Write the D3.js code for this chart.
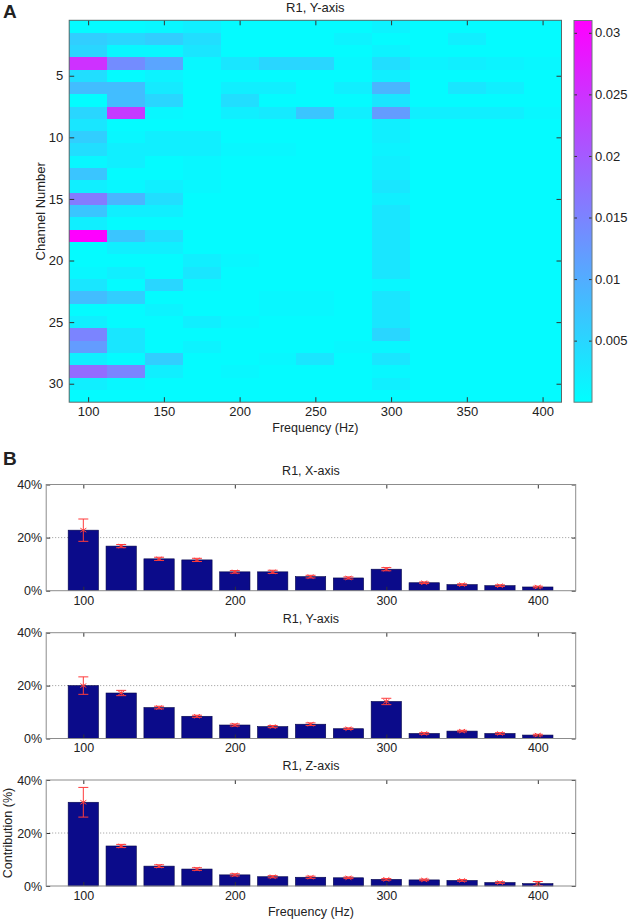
<!DOCTYPE html>
<html><head><meta charset="utf-8">
<script src="https://cdn.jsdelivr.net/npm/d3@7"></script>
<style>
body{margin:0;background:#fff}
svg{display:block}
text{font-family:"Liberation Sans",Arial,sans-serif;fill:#222}
</style>
</head><body>
<svg id="c" width="630" height="919"></svg>
<script>
// ---------- DATA ----------
const frequencies = [100,125,150,175,200,225,250,275,300,325,350,375,400];
const channels = d3.range(1, 32); // 1..31
// heatmap values (x 0.001), one row per channel, one column per frequency
const heatRows = [
 [0.5,0.5,1,2,0.5,0.5,0.5,0.5,1.5,0.5,0.5,0.5,0.5],
 [6,5,6,4,0.5,0.5,0.5,1.5,0.5,0.5,2,0.5,0.5],
 [5,1,1,3,0.5,0.5,0.5,0.5,1.5,0.5,0.5,0.5,0.5],
 [25,14,11,1,3,5,5,1,4,1.5,2,1.5,1],
 [4,0.5,1.5,0.5,0.5,0.5,0.5,0.5,2,0.5,0.5,0.5,0.5],
 [8,8,2.5,0.5,2,2,0.5,2,9,0.5,3,2,0.5],
 [0.3,8,5,0.5,4,0.5,0.5,0.5,3,0.5,0.5,0.5,0.5],
 [5,24,1,0.5,2,2.5,7,2,12,2,2,2,1],
 [3,0.5,0.5,0.5,0.5,0.5,0.5,0.5,2,0.5,0.5,0.5,0.5],
 [6,1,2,2,0.5,0.5,0.5,0.5,2,0.5,0.5,0.5,0.5],
 [4,2,2,2,1,1,0.5,0.5,1.5,0.5,0.5,0.5,0.5],
 [1,2,0.5,1,0.5,0.5,0.5,0.5,2,0.5,0.5,0.5,0.5],
 [7,0.5,0.5,1,0.5,0.5,0.5,0.5,2,0.5,0.5,0.5,0.5],
 [2,1,2,1,0.5,0.5,0.5,0.5,3,0.5,0.5,0.5,0.5],
 [16,9,4,0.5,0.5,0.5,0.5,0.5,2,0.5,0.5,0.5,0.5],
 [7,2,2,0.5,0.5,0.5,0.5,0.5,3,0.5,0.5,0.5,0.5],
 [2,0.5,0.5,0.5,0.5,0.5,0.5,0.5,3,0.5,0.5,0.5,0.5],
 [31,7,4,0.5,0.5,0.5,0.5,0.5,3,0.5,0.5,0.5,0.5],
 [0.5,2,2,0.5,0.5,0.5,0.5,0.5,3,0.5,0.5,0.5,0.5],
 [0.5,0.5,0.5,2,1,0.5,0.5,0.5,3,0.5,0.5,0.5,0.5],
 [1,2,0.5,3,0.5,0.5,0.5,0.5,3,0.5,0.5,0.5,0.5],
 [3,0.5,5,1,0.5,0.5,0.5,0.5,1,0.5,0.5,0.5,0.5],
 [8,6,0.5,0.5,0.5,1,1,0.5,3,0.5,0.5,0.5,0.5],
 [0.5,0.5,1.5,0.5,0.5,1,1,0.5,3,0.5,0.5,0.5,0.5],
 [2,0.5,0.5,2,1,0.5,0.5,0.5,3,0.5,0.5,0.5,0.5],
 [15,3,0.5,0.5,0.5,0.5,0.5,0.5,5,0.5,0.5,0.5,0.5],
 [12,3,0.5,1.5,0.5,0.5,0.5,1,1,0.5,0.5,0.5,0.5],
 [2,0.5,6,0.5,0.5,1,3,0.5,3,0.5,0.5,0.5,0.5],
 [18,15,2,0.5,1,0.5,0.5,0.5,1,0.5,0.5,0.5,0.5],
 [2,1,0.5,0.5,0.5,0.5,0.5,0.5,2,0.5,0.5,0.5,0.5],
 [0.5,0.5,0.5,0.5,0.5,0.5,0.5,0.5,0.5,0.5,0.5,0.5,0.5]
];
const heatScale = 0.001;
const colorDomain = [0, 0.031];
const heatXTicks = [100,150,200,250,300,350,400];
const heatYTicks = [5,10,15,20,25,30];
const colorbarTicks = [0.005,0.01,0.015,0.02,0.025,0.03];

const barXTicks = [100,200,300,400];
const barYTicks = [0,20,40];
const xAxisMean = [22.8,16.8,12.0,11.6,7.1,7.1,5.3,4.8,8.1,3.0,2.3,1.9,1.4];
const xAxisErr  = [4.2,0.6,0.6,0.6,0.5,0.6,0.5,0.4,0.6,0.3,0.3,0.3,0.3];
const yAxisMean = [20.0,17.2,11.7,8.4,5.1,4.5,5.4,3.7,14.0,1.9,2.8,1.9,1.3];
const yAxisErr  = [3.3,1.0,0.5,0.4,0.4,0.4,0.5,0.3,1.2,0.3,0.3,0.3,0.3];
const zAxisMean = [31.6,15.1,7.5,6.4,4.2,3.5,3.3,3.1,2.5,2.3,2.1,1.3,0.9];
const zAxisErr  = [5.6,0.6,0.5,0.5,0.4,0.4,0.4,0.3,0.3,0.3,0.3,0.3,0.8];

// ---------- DRAW ----------
const svg = d3.select("#c");

// Panel A: heatmap
const hm = {left:69.2, right:561.5, top:20.3, bottom:402.2};
const hx = d3.scaleLinear().domain([87.5, 412.5]).range([hm.left, hm.right]);
const hy = d3.scaleLinear().domain([0.5, 31.5]).range([hm.top, hm.bottom]);
const cool = d3.scaleLinear().domain(colorDomain).range(["#00ffff","#ff00ff"]).interpolate(d3.interpolateRgb).clamp(true);

const cells = [];
heatRows.forEach((row, i) => row.forEach((v, j) => cells.push({ch: channels[i], f: frequencies[j], v: v*heatScale})));
svg.append("g").selectAll("rect").data(cells).join("rect")
  .attr("x", d => hx(d.f - 12.5)).attr("y", d => hy(d.ch - 0.5))
  .attr("width", d => hx(d.f + 12.5) - hx(d.f - 12.5))
  .attr("height", d => hy(d.ch + 0.5) - hy(d.ch - 0.5))
  .attr("fill", d => cool(d.v)).attr("shape-rendering","crispEdges");

function styleAxis(g, fs){
  g.select(".domain").remove();
  g.selectAll(".tick line").attr("stroke","#333");
  g.selectAll(".tick text").style("font-size", fs+"px").attr("fill","#222");
}
svg.append("g").attr("transform",`translate(0,${hm.bottom})`)
  .call(d3.axisBottom(hx).tickValues(heatXTicks).tickSize(-5).tickPadding(5))
  .call(g=>styleAxis(g,13));
svg.append("g").attr("transform",`translate(0,${hm.top})`)
  .call(d3.axisTop(hx).tickValues(heatXTicks).tickSize(-5).tickFormat(""))
  .call(g=>styleAxis(g,13));
svg.append("g").attr("transform",`translate(${hm.left},0)`)
  .call(d3.axisLeft(hy).tickValues(heatYTicks).tickSize(-5).tickPadding(6))
  .call(g=>styleAxis(g,13));
svg.append("g").attr("transform",`translate(${hm.right},0)`)
  .call(d3.axisRight(hy).tickValues(heatYTicks).tickSize(-5).tickFormat(""))
  .call(g=>styleAxis(g,13));
svg.append("rect").attr("x",hm.left).attr("y",hm.top)
  .attr("width",hm.right-hm.left).attr("height",hm.bottom-hm.top)
  .attr("fill","none").attr("stroke","#5a6a6a").attr("stroke-width",1);

svg.append("text").attr("x",(hm.left+hm.right)/2).attr("y",12).attr("text-anchor","middle")
  .style("font-size","13px").text("R1, Y-axis");
svg.append("text").attr("x",(hm.left+hm.right)/2).attr("y",431.5).attr("text-anchor","middle")
  .style("font-size","12.5px").text("Frequency (Hz)");
svg.append("text").attr("transform",`translate(45,${(hm.top+hm.bottom)/2}) rotate(-90)`)
  .attr("text-anchor","middle").style("font-size","13px").text("Channel Number");
svg.append("text").attr("x",3).attr("y",18).style("font-size","19px").style("font-weight","bold")
  .attr("fill","#000").text("A");

// colorbar
const cb = {left:574, right:592, top:20.5, bottom:402.2};
const cy = d3.scaleLinear().domain(colorDomain).range([cb.bottom, cb.top]);
const grad = svg.append("defs").append("linearGradient").attr("id","cg")
  .attr("x1","0").attr("y1","1").attr("x2","0").attr("y2","0");
grad.append("stop").attr("offset","0").attr("stop-color",cool(colorDomain[0]));
grad.append("stop").attr("offset","1").attr("stop-color",cool(colorDomain[1]));
svg.append("rect").attr("x",cb.left).attr("y",cb.top).attr("width",cb.right-cb.left)
  .attr("height",cb.bottom-cb.top).attr("fill","url(#cg)");
svg.append("g").attr("transform",`translate(${cb.right},0)`)
  .call(d3.axisRight(cy).tickValues(colorbarTicks).tickSize(3).tickPadding(0).tickFormat(d3.format("")))
  .call(g=>styleAxis(g,13))
  .call(g=>g.selectAll(".tick line").attr("x1",-cb.right+cb.left).attr("x2",-cb.right+cb.left+3));
svg.append("g").attr("transform",`translate(${cb.right},0)`)
  .call(d3.axisLeft(cy).tickValues(colorbarTicks).tickSize(3).tickFormat(""))
  .call(g=>styleAxis(g,13));
svg.append("rect").attr("x",cb.left).attr("y",cb.top).attr("width",cb.right-cb.left)
  .attr("height",cb.bottom-cb.top).attr("fill","none").attr("stroke","#6a7a7a");

// Panel B: bar charts
svg.append("text").attr("x",3).attr("y",465).style("font-size","19px").style("font-weight","bold")
  .attr("fill","#000").text("B");

const bx = d3.scaleLinear().domain([75.5, 425]).range([46.2, 575.7]);
const panels = [
  {title:"R1, X-axis", mean:xAxisMean, err:xAxisErr, top:484.5, bottom:590.7},
  {title:"R1, Y-axis", mean:yAxisMean, err:yAxisErr, top:632.7, bottom:738.5},
  {title:"R1, Z-axis", mean:zAxisMean, err:zAxisErr, top:780, bottom:886}
];
panels.forEach((p, k) => {
  const by = d3.scaleLinear().domain([0,40]).range([p.bottom, p.top]);
  const g = svg.append("g");
  // grid
  g.append("line").attr("x1",bx.range()[0]).attr("x2",bx.range()[1])
    .attr("y1",by(20)).attr("y2",by(20)).attr("stroke","#999").attr("stroke-dasharray","1,2");
  // bars
  const data = frequencies.map((f,i)=>({f, m:p.mean[i], e:p.err[i]}));
  g.selectAll("rect.bar").data(data).join("rect").attr("class","bar")
    .attr("x", d=>bx(d.f-10)).attr("width", d=>bx(d.f+10)-bx(d.f-10))
    .attr("y", d=>by(d.m)).attr("height", d=>by(0)-by(d.m))
    .attr("fill","#0b0b8a").attr("stroke","#05054a").attr("stroke-width",0.6);
  // error bars
  const eb = g.selectAll("g.eb").data(data).join("g").attr("class","eb")
    .attr("stroke","#ff3b3b").attr("stroke-width",1);
  eb.append("line").attr("x1",d=>bx(d.f)).attr("x2",d=>bx(d.f)).attr("y1",d=>by(d.m+d.e)).attr("y2",d=>by(d.m-d.e));
  eb.append("line").attr("x1",d=>bx(d.f)-5).attr("x2",d=>bx(d.f)+5).attr("y1",d=>by(d.m+d.e)).attr("y2",d=>by(d.m+d.e));
  eb.append("line").attr("x1",d=>bx(d.f)-5).attr("x2",d=>bx(d.f)+5).attr("y1",d=>by(d.m-d.e)).attr("y2",d=>by(d.m-d.e));
  eb.append("line").attr("x1",d=>bx(d.f)-3).attr("x2",d=>bx(d.f)+3).attr("y1",d=>by(d.m)-2).attr("y2",d=>by(d.m)+2);
  eb.append("line").attr("x1",d=>bx(d.f)-3).attr("x2",d=>bx(d.f)+3).attr("y1",d=>by(d.m)+2).attr("y2",d=>by(d.m)-2);
  // axes
  g.append("g").attr("transform",`translate(0,${p.bottom})`)
    .call(d3.axisBottom(bx).tickValues(barXTicks).tickSize(-4).tickPadding(5))
    .call(a=>styleAxis(a,12.5));
  g.append("g").attr("transform",`translate(0,${p.top})`)
    .call(d3.axisTop(bx).tickValues(barXTicks).tickSize(-4).tickFormat(""))
    .call(a=>styleAxis(a,12.5));
  g.append("g").attr("transform",`translate(${bx.range()[0]},0)`)
    .call(d3.axisLeft(by).tickValues(barYTicks).tickSize(-4).tickPadding(4).tickFormat(d=>d+"%"))
    .call(a=>styleAxis(a,12.5));
  g.append("g").attr("transform",`translate(${bx.range()[1]},0)`)
    .call(d3.axisRight(by).tickValues(barYTicks).tickSize(-4).tickFormat(""))
    .call(a=>styleAxis(a,12.5));
  g.append("rect").attr("x",bx.range()[0]).attr("y",p.top)
    .attr("width",bx.range()[1]-bx.range()[0]).attr("height",p.bottom-p.top)
    .attr("fill","none").attr("stroke","#8c8c8c");
  g.append("text").attr("x",(bx.range()[0]+bx.range()[1])/2).attr("y",p.top-10)
    .attr("text-anchor","middle").style("font-size","12.5px").text(p.title);
});
svg.append("text").attr("transform",`translate(12,${(780+886)/2}) rotate(-90)`)
  .attr("text-anchor","middle").style("font-size","12.5px").text("Contribution (%)");
svg.append("text").attr("x",(46.2+575.7)/2).attr("y",916).attr("text-anchor","middle")
  .style("font-size","12.5px").text("Frequency (Hz)");
</script>
</body></html>
